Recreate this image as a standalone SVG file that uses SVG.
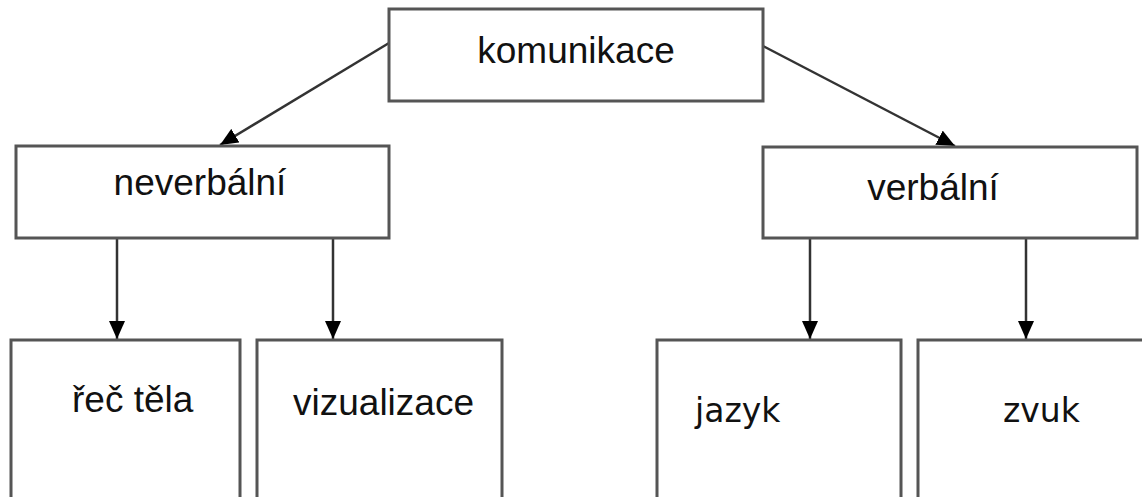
<svg xmlns="http://www.w3.org/2000/svg" width="1142" height="497" viewBox="0 0 1142 497">
<style>
.box{fill:#fff;stroke:#555;stroke-width:3}
.lbl{font-family:"Liberation Sans",Arial,sans-serif;font-size:37px;fill:#111}
.lbl2{font-family:"DejaVu Sans",Verdana,sans-serif;font-size:33px;fill:#111}
.edge{stroke:#333;stroke-width:2.5;fill:none;marker-end:url(#ah)}
</style>
<defs>
<marker id="ah" viewBox="0 0 18 16" refX="18" refY="8" markerWidth="18" markerHeight="16" orient="auto" markerUnits="userSpaceOnUse">
<path d="M0,0 L18,8 L0,16 z" fill="#000"/>
</marker>
</defs>
<rect width="1142" height="497" fill="#fff"/>
<g id="connectors">
<line class="edge" x1="389" y1="43" x2="220" y2="145"/>
<line class="edge" x1="763" y1="46" x2="955" y2="146"/>
<line class="edge" x1="117" y1="238" x2="117" y2="339"/>
<line class="edge" x1="333" y1="238" x2="333" y2="339"/>
<line class="edge" x1="810" y1="238" x2="810" y2="339"/>
<line class="edge" x1="1026" y1="238" x2="1026" y2="339"/>
</g>
<g id="komunikace">
<rect class="box" x="389" y="9" width="374" height="92"/>
<text class="lbl" x="576" y="63" text-anchor="middle">komunikace</text>
</g>
<g id="neverbalni">
<rect class="box" x="16" y="146" width="373" height="92"/>
<text class="lbl" x="200" y="195" text-anchor="middle">neverbální</text>
</g>
<g id="verbalni">
<rect class="box" x="763" y="147" width="374" height="91"/>
<text class="lbl" x="933" y="200" text-anchor="middle">verbální</text>
</g>
<g id="rec-tela">
<rect class="box" x="11" y="340" width="229" height="170"/>
<text class="lbl" x="72" y="412">řeč těla</text>
</g>
<g id="vizualizace">
<rect class="box" x="257" y="340" width="245" height="170"/>
<text class="lbl" x="293" y="415">vizualizace</text>
</g>
<g id="jazyk">
<rect class="box" x="657" y="340" width="244" height="170"/>
<text class="lbl2" x="695" y="422">jazyk</text>
</g>
<g id="zvuk">
<rect class="box" x="918" y="340" width="240" height="170"/>
<text class="lbl2" x="1003" y="422">zvuk</text>
</g>
</svg>
